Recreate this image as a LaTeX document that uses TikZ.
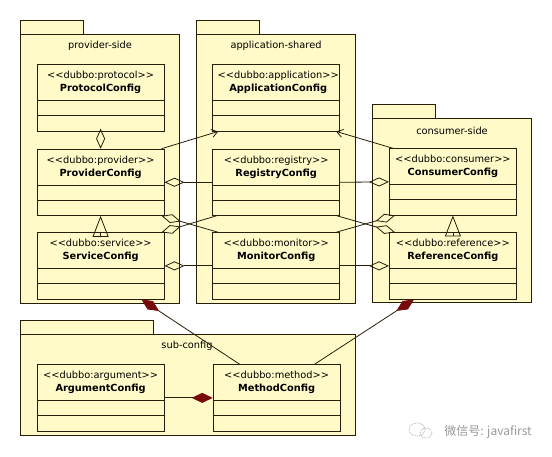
\documentclass[tikz,border=0pt]{standalone}
\usepackage{fontspec}
\setmainfont{DejaVu Sans}
\newfontfamily\cjk{Noto Sans CJK SC}
\usetikzlibrary{shapes.multipart,arrows.meta}

\definecolor{umlyellow}{RGB}{255,250,200}
\definecolor{umlline}{RGB}{40,30,8}
\definecolor{compred}{RGB}{120,10,10}

\newcommand{\stereo}[1]{<{}<#1>{}>}
\newcommand{\umlhead}[2]{\begin{tabular}{@{}c@{}}\stereo{#1}\\\textbf{#2}\end{tabular}}

\begin{document}
\begin{tikzpicture}[x = 1pt, y = -1pt, line width = 0.8pt, color = umlline,
    every node/.style = {font = \fontsize{9.8}{13}\selectfont, text = black},
    pkg/.style = {draw = umlline, fill = umlyellow},
    cls/.style = {rectangle split, rectangle split parts = 3, draw = umlline, fill = umlyellow,
        anchor = north west, text width = 117pt, align = center, inner xsep = 5pt, inner ysep = 4.5pt,
        rectangle split empty part height = 0pt, rectangle split empty part depth = 0pt},
    agg/.style = {-{Diamond[open, length = 20pt, width = 9pt]}},
    comp/.style = {-{Diamond[length = 21pt, width = 10pt, color = compred]}},
    gen/.style = {-{Triangle[open, length = 21pt, width = 16pt]}},
    nav/.style = {-{Straight Barb[length = 6pt, width = 8pt]}}]
    \useasboundingbox[fill = white] (0,0) rectangle (552,456);

    % packages
    \draw[pkg] (20.7,20.7) rectangle (83,34.3) (20.7,34.3) rectangle (179.3,303.3);
    \draw[pkg] (196.7,20.7) rectangle (259.3,34.3) (196.7,34.3) rectangle (355.7,303.3);
    \draw[pkg] (372.7,104.3) rectangle (435,118.3) (372.7,118.3) rectangle (531.7,302.7);
    \draw[pkg] (20.7,320.7) rectangle (153.3,334.3) (20.7,334.3) rectangle (355.7,435);
    \node (providertitle) at (100,46) {provider-side};
    \node (sharedtitle) at (276,46) {application-shared};
    \node (consumertitle) at (452,131) {consumer-side};
    \node (subtitle) at (187,346) {sub-config};

    % classes
    \node[cls] (protocol) at (36.7,64.3) {\umlhead{dubbo:protocol}{ProtocolConfig}};
    \node[cls] (provider) at (36.7,148.7) {\umlhead{dubbo:provider}{ProviderConfig}};
    \node[cls] (service) at (36.7,232.3) {\umlhead{dubbo:service}{ServiceConfig}};
    \node[cls] (application) at (212.3,64.3) {\umlhead{dubbo:application}{ApplicationConfig}};
    \node[cls] (registry) at (212.3,148.7) {\umlhead{dubbo:registry}{RegistryConfig}};
    \node[cls] (monitor) at (212.3,232.3) {\umlhead{dubbo:monitor}{MonitorConfig}};
    \node[cls] (consumer) at (389,148.3) {\umlhead{dubbo:consumer}{ConsumerConfig}};
    \node[cls] (reference) at (389,232.3) {\umlhead{dubbo:reference}{ReferenceConfig}};
    \node[cls] (argument) at (36.7,364.3) {\umlhead{dubbo:argument}{ArgumentConfig}};
    \node[cls] (method) at (212.7,364.3) {\umlhead{dubbo:method}{MethodConfig}};

    % relations
    \draw[agg] (protocol.south) -- (provider.north);
    \draw[agg] (registry.west) -- (provider.east);
    \draw[agg] (registry.east) -- (consumer.west);
    \draw[agg] (monitor.west) -- (service.east);
    \draw[agg] (monitor.east) -- (reference.west);
    \draw[agg] ([xshift = 6pt]monitor.north west) -- ([xshift = -3pt]provider.south east);
    \draw[agg] ([xshift = 4pt]registry.south west) -- ([xshift = -3pt]service.north east);
    \draw[agg] ([xshift = -4pt]monitor.north east) -- ([xshift = 6pt]consumer.south west);
    \draw[agg] ([xshift = -3pt]registry.south east) -- ([xshift = 6pt]reference.north west);
    \draw[gen] (service.north) -- (provider.south);
    \draw[gen] (reference.north) -- (consumer.south);
    \draw[nav] ([xshift = -3pt]provider.north east) -- ([xshift = 6pt]application.south west);
    \draw[nav] ([xshift = 4pt]consumer.north west) -- ([xshift = -4pt]application.south east);
    \draw[comp] ([xshift = 27pt]method.north west) -- ([xshift = -23pt]service.south east);
    \draw[comp] ([xshift = -26pt]method.north east) -- ([xshift = 25pt]reference.south west);
    \draw[comp] (argument.east) -- (method.west);

    % watermark
    \draw[gray!60, densely dotted] (417,429.5) circle[x radius = 8pt, y radius = 6.5pt]
        (426,433) circle[x radius = 6pt, y radius = 5pt];
    \node[text = gray!80, font = \cjk\fontsize{12}{14}\selectfont] (mark) at (488,432) {微信号: javafirst};
\end{tikzpicture}
\end{document}
